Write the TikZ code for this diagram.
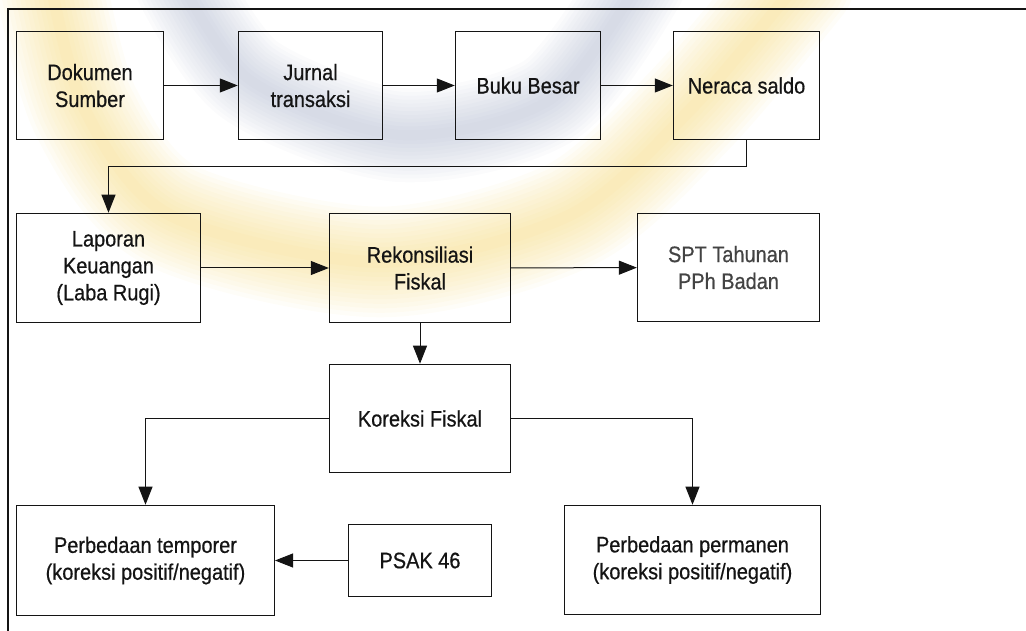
\documentclass[tikz,border=0pt]{standalone}
\usepackage{fontspec}
\setmainfont{Liberation Sans}[FakeStretch=0.89, FakeBold=0.6]
\usetikzlibrary{arrows.meta}
\definecolor{ink}{HTML}{141414}
\definecolor{wmyellow}{HTML}{F2CF5B}
\definecolor{wmblue}{HTML}{97A2BF}
\tikzset{
  box/.style={draw=ink, line width=1bp, align=center, inner sep=0pt,
    font=\fontsize{22.5}{27}\selectfont, text=ink},
  arr/.style={draw=ink, line width=1bp, -{Triangle[length=18bp,width=14bp]}},
  frame/.style={draw=ink, line width=1.4bp},
  wmy/.style={draw=wmyellow, line cap=round},
  wmb/.style={draw=wmblue, line cap=round}
}
\begin{document}
\begin{tikzpicture}[x=1bp,y=-1bp]
\useasboundingbox (0,0) rectangle (1026,631);
% faint watermark
\begin{scope}
\clip (0,0) rectangle (1026,631);
\foreach \i in {1,...,12}{
  \pgfmathsetmacro{\w}{120-9*\i}
  \draw[wmy, line width=\w, opacity=0.045] plot[smooth] coordinates {(50,-20) (85,110) (170,215) (380,262) (570,215) (690,110) (800,-20)};
  \draw[wmb, line width=0.85*\w, opacity=0.04] plot[smooth] coordinates {(180,-20) (250,80) (400,135) (550,100) (640,-20)};
}
\end{scope}
% frame
\draw[frame] (8,631) -- (8,9) -- (1026,9);
% nodes
\node[box, minimum width=148, minimum height=109] (doc) at (90,85.5) {Dokumen\\Sumber};
\node[box, minimum width=145, minimum height=109] (jur) at (310.5,85.5) {Jurnal\\transaksi};
\node[box, minimum width=146, minimum height=109] (buku) at (528,85.5) {Buku Besar};
\node[box, minimum width=147, minimum height=109] (ner) at (746.5,85.5) {Neraca saldo};
\node[box, minimum width=185, minimum height=110] (lap) at (108.5,268) {Laporan\\Keuangan\\(Laba Rugi)};
\node[box, minimum width=182, minimum height=110] (rek) at (420,268) {Rekonsiliasi\\Fiskal};
\node[box, minimum width=183, minimum height=109, text=ink!80] (spt) at (728.5,267.5) {SPT Tahunan\\PPh Badan};
\node[box, minimum width=182, minimum height=109] (kor) at (420,418.5) {Koreksi Fiskal};
\node[box, minimum width=259, minimum height=111] (tem) at (145.5,560.5) {Perbedaan temporer\\(koreksi positif/negatif)};
\node[box, minimum width=144, minimum height=73] (psak) at (420,560.5) {PSAK 46};
\node[box, minimum width=257, minimum height=110] (perm) at (692.5,560) {Perbedaan permanen\\(koreksi positif/negatif)};
% connectors
\coordinate (bend) at (746.5,167);
\draw[arr] (doc) -- (jur);
\draw[arr] (jur) -- (buku);
\draw[arr] (buku) -- (ner);
\draw[arr] (ner.south) -- (bend) -| (lap.north);
\draw[arr] (lap) -- (rek);
\draw[arr] (rek) -- (spt);
\draw[arr] (rek) -- (kor);
\draw[arr] (kor.west) -| (tem.north);
\draw[arr] (kor.east) -| (perm.north);
\draw[arr] (psak) -- (tem);
\end{tikzpicture}
\end{document}
